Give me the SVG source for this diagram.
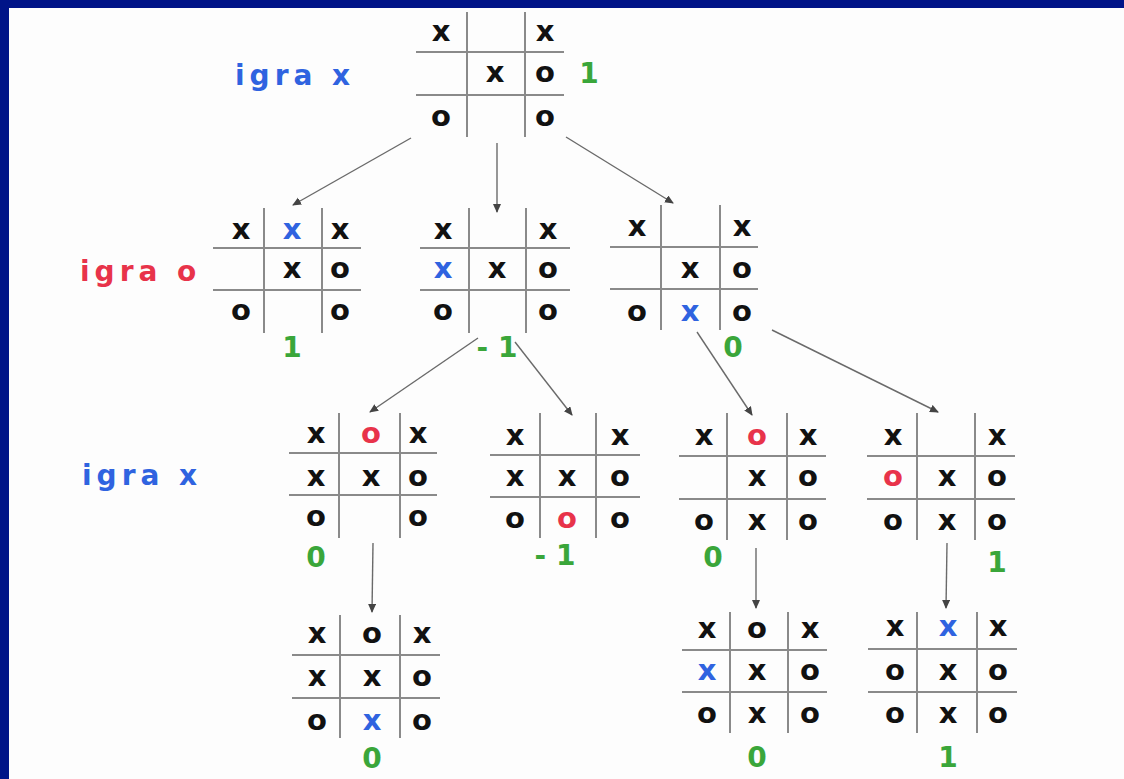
<svg xmlns="http://www.w3.org/2000/svg" width="1124" height="779" viewBox="0 0 1124 779">
<style>
.g line{stroke:#8a8a8a;stroke-width:2}
text{font-family:"DejaVu Sans","Liberation Sans",sans-serif;font-weight:bold;text-anchor:middle}
.p{font-size:29px;fill:#111}
.b{fill:#2f63e0}
.r{fill:#e8334a}
.v{font-size:28px;fill:#3aa63a;font-weight:bold}
.lbl{font-size:28px;letter-spacing:5px;text-anchor:start}
#conn line{stroke:#6a6a6a;stroke-width:1.4;marker-end:url(#ah)}
</style>
<defs>
<marker id="ah" markerWidth="10" markerHeight="10" refX="8" refY="4" orient="auto" markerUnits="userSpaceOnUse">
<path d="M0,0 L9,4 L0,8 z" fill="#444"/>
</marker>
</defs>
<rect width="1124" height="779" fill="#fdfdfd"/>
<rect x="0" y="0" width="1124" height="8" fill="#001488"/>
<rect x="0" y="0" width="9" height="779" fill="#001488"/>

<text class="lbl b" x="235" y="85">igra x</text>
<text class="lbl r" x="80" y="281">igra o</text>
<text class="lbl b" x="82" y="485">igra x</text>

<g id="conn">
<line x1="411" y1="138" x2="293" y2="205"/>
<line x1="497" y1="143" x2="497" y2="212"/>
<line x1="566" y1="137" x2="673" y2="203"/>
<line x1="478" y1="338" x2="370" y2="412"/>
<line x1="515" y1="342" x2="572" y2="415"/>
<line x1="697" y1="332" x2="752" y2="415"/>
<line x1="772" y1="330" x2="938" y2="412"/>
<line x1="373" y1="543" x2="372" y2="612"/>
<line x1="756" y1="548" x2="756" y2="608"/>
<line x1="947" y1="543" x2="946" y2="608"/>
</g>

<g id="nA" class="g">
<line x1="467" y1="12" x2="467" y2="137"/><line x1="525" y1="12" x2="525" y2="137"/>
<line x1="416" y1="52" x2="564" y2="52"/><line x1="416" y1="95" x2="564" y2="95"/>
<text class="p" x="441" y="41">x</text><text class="p" x="545" y="41">x</text>
<text class="p" x="495" y="82">x</text><text class="p" x="545" y="82">o</text>
<text class="p" x="441" y="126">o</text><text class="p" x="545" y="126">o</text>
<text class="v" x="589" y="83">1</text>
</g>

<g id="nB" class="g">
<line x1="264" y1="208" x2="264" y2="333"/><line x1="322" y1="208" x2="322" y2="333"/>
<line x1="213" y1="248" x2="361" y2="248"/><line x1="213" y1="290" x2="361" y2="290"/>
<text class="p" x="241" y="239">x</text><text class="p b" x="292" y="239">x</text><text class="p" x="340" y="239">x</text>
<text class="p" x="292" y="278">x</text><text class="p" x="340" y="278">o</text>
<text class="p" x="241" y="320">o</text><text class="p" x="340" y="320">o</text>
<text class="v" x="292" y="357">1</text>
</g>

<g id="nC" class="g">
<line x1="469" y1="208" x2="469" y2="333"/><line x1="526" y1="208" x2="526" y2="333"/>
<line x1="420" y1="248" x2="570" y2="248"/><line x1="420" y1="290" x2="570" y2="290"/>
<text class="p" x="443" y="239">x</text><text class="p" x="548" y="239">x</text>
<text class="p b" x="443" y="278">x</text><text class="p" x="497" y="278">x</text><text class="p" x="548" y="278">o</text>
<text class="p" x="443" y="320">o</text><text class="p" x="548" y="320">o</text>
<text class="v" x="497" y="357">- 1</text>
</g>

<g id="nD" class="g">
<line x1="661" y1="205" x2="661" y2="330"/><line x1="720" y1="205" x2="720" y2="330"/>
<line x1="610" y1="247" x2="758" y2="247"/><line x1="610" y1="289" x2="758" y2="289"/>
<text class="p" x="637" y="236">x</text><text class="p" x="742" y="236">x</text>
<text class="p" x="690" y="278">x</text><text class="p" x="742" y="278">o</text>
<text class="p" x="637" y="321">o</text><text class="p b" x="690" y="321">x</text><text class="p" x="742" y="321">o</text>
<text class="v" x="733" y="357">0</text>
</g>

<g id="nE" class="g">
<line x1="339" y1="413" x2="339" y2="538"/><line x1="400" y1="413" x2="400" y2="538"/>
<line x1="289" y1="453" x2="437" y2="453"/><line x1="289" y1="495" x2="437" y2="495"/>
<text class="p" x="316" y="443">x</text><text class="p r" x="371" y="443">o</text><text class="p" x="418" y="443">x</text>
<text class="p" x="316" y="486">x</text><text class="p" x="371" y="486">x</text><text class="p" x="418" y="486">o</text>
<text class="p" x="316" y="526">o</text><text class="p" x="418" y="526">o</text>
<text class="v" x="316" y="567">0</text>
</g>

<g id="nF" class="g">
<line x1="540" y1="413" x2="540" y2="538"/><line x1="596" y1="413" x2="596" y2="538"/>
<line x1="490" y1="455" x2="640" y2="455"/><line x1="490" y1="497" x2="640" y2="497"/>
<text class="p" x="515" y="445">x</text><text class="p" x="620" y="445">x</text>
<text class="p" x="515" y="486">x</text><text class="p" x="567" y="486">x</text><text class="p" x="620" y="486">o</text>
<text class="p" x="515" y="528">o</text><text class="p r" x="567" y="528">o</text><text class="p" x="620" y="528">o</text>
<text class="v" x="555" y="565">- 1</text>
</g>

<g id="nG" class="g">
<line x1="727" y1="413" x2="727" y2="540"/><line x1="787" y1="413" x2="787" y2="540"/>
<line x1="679" y1="456" x2="826" y2="456"/><line x1="679" y1="499" x2="826" y2="499"/>
<text class="p" x="704" y="445">x</text><text class="p r" x="757" y="445">o</text><text class="p" x="808" y="445">x</text>
<text class="p" x="757" y="486">x</text><text class="p" x="808" y="486">o</text>
<text class="p" x="704" y="530">o</text><text class="p" x="757" y="530">x</text><text class="p" x="808" y="530">o</text>
<text class="v" x="713" y="567">0</text>
</g>

<g id="nH" class="g">
<line x1="917" y1="413" x2="917" y2="540"/><line x1="975" y1="413" x2="975" y2="540"/>
<line x1="867" y1="456" x2="1015" y2="456"/><line x1="867" y1="499" x2="1015" y2="499"/>
<text class="p" x="893" y="445">x</text><text class="p" x="997" y="445">x</text>
<text class="p r" x="893" y="486">o</text><text class="p" x="947" y="486">x</text><text class="p" x="997" y="486">o</text>
<text class="p" x="893" y="530">o</text><text class="p" x="947" y="530">x</text><text class="p" x="997" y="530">o</text>
<text class="v" x="997" y="572">1</text>
</g>

<g id="nE2" class="g">
<line x1="340" y1="615" x2="340" y2="738"/><line x1="400" y1="615" x2="400" y2="738"/>
<line x1="292" y1="655" x2="440" y2="655"/><line x1="292" y1="698" x2="440" y2="698"/>
<text class="p" x="317" y="643">x</text><text class="p" x="372" y="643">o</text><text class="p" x="422" y="643">x</text>
<text class="p" x="317" y="686">x</text><text class="p" x="372" y="686">x</text><text class="p" x="422" y="686">o</text>
<text class="p" x="317" y="730">o</text><text class="p b" x="372" y="730">x</text><text class="p" x="422" y="730">o</text>
<text class="v" x="372" y="768">0</text>
</g>

<g id="nG2" class="g">
<line x1="730" y1="612" x2="730" y2="733"/><line x1="788" y1="612" x2="788" y2="733"/>
<line x1="682" y1="650" x2="827" y2="650"/><line x1="682" y1="692" x2="827" y2="692"/>
<text class="p" x="707" y="638">x</text><text class="p" x="757" y="638">o</text><text class="p" x="810" y="638">x</text>
<text class="p b" x="707" y="680">x</text><text class="p" x="757" y="680">x</text><text class="p" x="810" y="680">o</text>
<text class="p" x="707" y="723">o</text><text class="p" x="757" y="723">x</text><text class="p" x="810" y="723">o</text>
<text class="v" x="757" y="767">0</text>
</g>

<g id="nH2" class="g">
<line x1="917" y1="612" x2="917" y2="733"/><line x1="977" y1="612" x2="977" y2="733"/>
<line x1="868" y1="649" x2="1017" y2="649"/><line x1="868" y1="692" x2="1017" y2="692"/>
<text class="p" x="895" y="636">x</text><text class="p b" x="948" y="636">x</text><text class="p" x="998" y="636">x</text>
<text class="p" x="895" y="680">o</text><text class="p" x="948" y="680">x</text><text class="p" x="998" y="680">o</text>
<text class="p" x="895" y="723">o</text><text class="p" x="948" y="723">x</text><text class="p" x="998" y="723">o</text>
<text class="v" x="948" y="767">1</text>
</g>
</svg>
